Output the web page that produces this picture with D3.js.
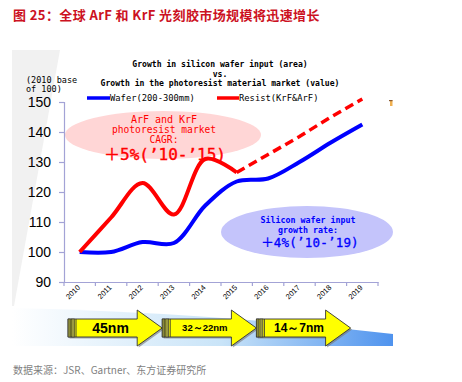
<!DOCTYPE html>
<html><head><meta charset="utf-8">
<script src="https://cdn.jsdelivr.net/npm/d3@7"></script>
<style>body{margin:0;background:#fff}svg{display:block}</style>
</head><body>
<script>
const years = ["2010","2011","2012","2013","2014","2015","2016","2017","2018","2019"];
const waferValues = [100, 100, 103.3, 103, 115.5, 123.5, 124.5, 130, 136.5, 142.5];
const resistValues = [100, 111.5, 123, 112.5, 131, 126.5];
const resistForecastYears = ["2015","2016","2017","2018","2019"];
const resistForecastValues = [126.5, 132.5, 138.5, 145, 151];
const yTicks = [90, 100, 110, 120, 130, 140, 150];
const nodeStages = ["45nm", "32～22nm", "14～7nm"];
const stageStart = [0, 3, 6];
const stageEnd = [3, 6, 9];
const stageFont = [14, 9.5, 12];

const W = 462, H = 382;
const mono = "'DejaVu Sans Mono', monospace";
const svg = d3.select("body").append("svg").attr("width", W).attr("height", H);
const defs = svg.append("defs");

// title
svg.append("text").attr("x", 13).attr("y", 20)
  .attr("font-family", "'Noto Sans CJK SC', sans-serif").attr("font-weight", "bold")
  .attr("font-size", 13).attr("letter-spacing", 0.4).attr("fill", "#cc1122")
  .text("图 25：全球 ArF 和 KrF 光刻胶市场规模将迅速增长");

// grey wedge background
svg.append("path").attr("d", "M12,50 L60,50 L14,306 L12,306 Z").attr("fill", "#f1f1f1");

// bottom blue gradient band
const g1 = defs.append("linearGradient").attr("id", "band").attr("x1", "0").attr("x2", "1").attr("y1", "0").attr("y2", "0");
g1.append("stop").attr("offset", "0").attr("stop-color", "#ffffff");
g1.append("stop").attr("offset", "0.55").attr("stop-color", "#c9e4f8");
g1.append("stop").attr("offset", "1").attr("stop-color", "#4f93ee");
svg.append("path").attr("d", "M12,308 Q200,312 393,334 L393,346 L12,346 Z").attr("fill", "url(#band)");

const x = d3.scaleBand().domain(years).range([64, 378]);
const y = d3.scaleLinear().domain([90, 150]).range([282, 102]);
const axisColor = "#a3a3d6";

// ellipses
svg.append("ellipse").attr("cx", 163).attr("cy", 135).attr("rx", 98).attr("ry", 24).attr("fill", "#ffd6d6");
svg.append("ellipse").attr("cx", 307).attr("cy", 232).attr("rx", 86).attr("ry", 26).attr("fill", "#c4c4fb");

// y axis
const yAxis = svg.append("g").attr("transform", "translate(64,0)")
  .call(d3.axisLeft(y).tickValues(yTicks).tickSize(5).tickPadding(8));
yAxis.select(".domain").attr("stroke", axisColor).attr("stroke-width", 1.2);
yAxis.selectAll(".tick line").attr("stroke", axisColor).attr("stroke-width", 1.2);
yAxis.selectAll(".tick text").attr("font-family", "Arial, 'Liberation Sans', sans-serif")
  .attr("font-size", 14).attr("fill", "#000");

// x axis
const xAxis = svg.append("g").attr("transform", "translate(0,282)")
  .call(d3.axisBottom(x).tickSize(0).tickPadding(0));
xAxis.select(".domain").attr("stroke", axisColor).attr("stroke-width", 1.2);
xAxis.selectAll(".tick text").attr("font-family", "Arial, 'Liberation Sans', sans-serif")
  .attr("font-size", 7.5).attr("fill", "#000").attr("text-anchor", "end")
  .attr("dy", 0).attr("transform", "translate(1,6) rotate(-45)");
svg.append("g").selectAll("line").data(d3.range(years.length + 1)).join("line")
  .attr("x1", i => 64 + i * x.step()).attr("x2", i => 64 + i * x.step())
  .attr("y1", 282).attr("y2", 286).attr("stroke", axisColor).attr("stroke-width", 1.2);

// y axis caption
svg.append("text").attr("font-family", mono).attr("font-size", 8.5).attr("fill", "#000")
  .selectAll("tspan").data(["(2010 base", "of 100)"]).join("tspan")
  .attr("x", 26).attr("y", (d, i) => 83 + i * 9).text(d => d);

// chart title
svg.append("text").attr("font-family", mono).attr("font-weight", "bold").attr("font-size", 8.1)
  .attr("text-anchor", "middle").attr("fill", "#000")
  .selectAll("tspan").data(["Growth in silicon wafer input (area)", "vs.", "Growth in the photoresist material market (value)"]).join("tspan")
  .attr("x", 220).attr("y", (d, i) => 67 + i * 9.5).text(d => d);

// legend
const leg = svg.append("g").attr("font-family", mono).attr("font-size", 8.8);
leg.append("line").attr("x1", 87).attr("x2", 110).attr("y1", 98).attr("y2", 98).attr("stroke", "#0000ff").attr("stroke-width", 3.5);
leg.append("text").attr("x", 110).attr("y", 101).text("Wafer(200-300mm)");
leg.append("line").attr("x1", 217).attr("x2", 239).attr("y1", 98).attr("y2", 98).attr("stroke", "#ff0000").attr("stroke-width", 3.5);
leg.append("text").attr("x", 239).attr("y", 101).text("Resist(KrF&ArF)");

// small orange mark
svg.append("rect").attr("x", 390).attr("y", 100).attr("width", 2.5).attr("height", 6).attr("fill", "#f0b050");
svg.append("rect").attr("x", 389).attr("y", 100).attr("width", 3.5).attr("height", 1.2).attr("fill", "#8a5a30");

// lines
const cx = d => x(d) + x.bandwidth() / 2;
const line = d3.line().x(d => cx(d[0])).y(d => y(d[1])).curve(d3.curveCatmullRom.alpha(0.5));
svg.append("path").datum(years.map((yr, i) => [yr, waferValues[i]]))
  .attr("d", line).attr("fill", "none").attr("stroke", "#0000ff").attr("stroke-width", 4).attr("stroke-linejoin", "round");
svg.append("path").datum(years.slice(0, resistValues.length).map((yr, i) => [yr, resistValues[i]]))
  .attr("d", line).attr("fill", "none").attr("stroke", "#ff0000").attr("stroke-width", 4).attr("stroke-linejoin", "round");
svg.append("path").datum(resistForecastYears.map((yr, i) => [yr, resistForecastValues[i]]))
  .attr("d", d3.line().x(d => cx(d[0])).y(d => y(d[1]))).attr("fill", "none")
  .attr("stroke", "#ff0000").attr("stroke-width", 3.5).attr("stroke-dasharray", "9,5");

// ellipse texts
const pt = svg.append("text").attr("font-family", mono).attr("fill", "#ff0000").attr("text-anchor", "middle");
[["ArF and KrF", 10, 123], ["photoresist market", 9.6, 133], ["CAGR:", 9.6, 143]].forEach(r =>
  pt.append("tspan").attr("x", 164).attr("y", r[2]).attr("font-size", r[1]).text(r[0]));
svg.append("text").attr("x", 165).attr("y", 160).attr("text-anchor", "middle").attr("fill", "#ff0000")
  .attr("font-size", 16).attr("stroke", "#ff0000").attr("stroke-width", 0.4)
  .attr("font-family", "'DejaVu Sans Mono', 'Noto Sans CJK JP', monospace").text("＋5%(’10-’15)");

const bt = svg.append("text").attr("font-family", mono).attr("fill", "#0000ff").attr("text-anchor", "middle").attr("font-weight", "bold");
[["Silicon wafer input", 8.3, 223], ["growth rate:", 8.3, 233]].forEach(r =>
  bt.append("tspan").attr("x", 308).attr("y", r[2]).attr("font-size", r[1]).text(r[0]));
svg.append("text").attr("x", 310).attr("y", 247).attr("text-anchor", "middle").attr("fill", "#0000ff")
  .attr("font-size", 12.5).attr("letter-spacing", 0.2).attr("stroke", "#0000ff").attr("stroke-width", 0.3)
  .attr("font-family", "'DejaVu Sans Mono', 'Noto Sans CJK JP', monospace").text("＋4%(’10-’19)");

// node arrows
const ag = svg.append("g");
nodeStages.forEach((label, i) => {
  const x0 = 64 + stageStart[i] * x.step() + 4;
  const x1 = 64 + stageEnd[i] * x.step() + 4;
  const hx = x1 - 25;
  const p = `M${x0},319 L${hx},319 L${hx},310 L${x1},328 L${hx},346 L${hx},337 L${x0},337 Z`;
  ag.append("path").attr("d", p).attr("transform", "translate(1.5,1.5)").attr("fill", "#777").attr("opacity", 0.6);
  ag.append("path").attr("d", p).attr("fill", "#ffff00").attr("stroke", "#333").attr("stroke-width", 0.9);
  ag.append("rect").attr("x", x0).attr("y", 319).attr("width", 2.5).attr("height", 18).attr("fill", "#8a8a3a").attr("stroke", "#333").attr("stroke-width", 0.6);
  ag.append("rect").attr("x", x0 + 3.5).attr("y", 319).attr("width", 3).attr("height", 18).attr("fill", "#9a9a40").attr("stroke", "#333").attr("stroke-width", 0.6);
  ag.append("line").attr("x1", x0 + 8).attr("x2", x0 + 8).attr("y1", 319).attr("y2", 337).attr("stroke", "#333").attr("stroke-width", 0.9);
  ag.append("text").attr("x", (x0 + 8 + hx) / 2 + 4).attr("y", 328).attr("dy", "0.36em")
    .attr("text-anchor", "middle").attr("font-family", "Arial, 'Liberation Sans', sans-serif")
    .attr("font-weight", "bold").attr("font-size", stageFont[i]).attr("fill", "#000").text(label);
});

// source
svg.append("text").attr("x", 13).attr("y", 374).attr("font-family", "'Noto Sans CJK SC', sans-serif")
  .attr("font-size", 10).attr("fill", "#7f7f7f").text("数据来源：JSR、Gartner、东方证券研究所");
</script>
</body></html>
